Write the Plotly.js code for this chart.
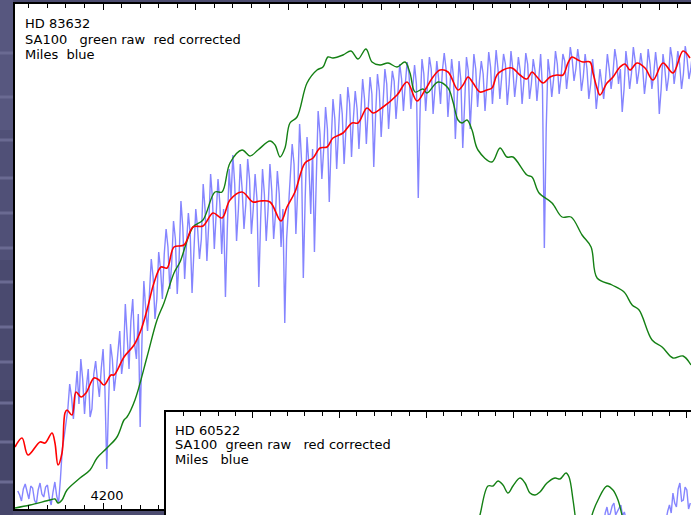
<!DOCTYPE html>
<html>
<head>
<meta charset="utf-8">
<script src="https://cdn.plot.ly/plotly-3.0.1.min.js"></script>
<style>html,body{margin:0;padding:0;background:#4c4c70;}#chart{width:691px;height:515px;}</style>
</head>
<body>
<div id="chart"></div>
<script>
// ---------- Main panel: HD 83632 ----------
// Miles spectrum (blue), sampled on a uniform wavelength grid
const milesStart = 4108;
const milesStep = 2;
const milesFlux = [
 18,14,8,20,25,16,10,23,21,9,
 5,19,26,15,12,22,24,11,4,17,
 27,13,6,30,60,72,88,100,125,112,
 90,118,138,105,150,130,95,122,140,92,
 100,135,148,128,112,140,160,120,40,108,
 165,150,118,135,160,178,135,150,205,170,
 140,188,210,165,150,195,82,170,228,200,
 178,215,250,232,190,210,257,240,210,255,
 280,262,220,245,288,270,215,250,308,282,
 230,265,296,275,216,258,300,280,250,270,
 325,300,248,285,335,310,260,295,330,305,
 255,300,212,280,340,310,354,325,268,300,
 345,320,280,305,350,330,275,300,335,310,
 222,290,340,315,268,300,345,318,270,295,
 338,315,262,300,186,270,300,330,365,345,
 275,320,385,350,231,310,372,345,295,360,
 257,330,398,375,330,360,402,380,307,365,
 410,390,340,378,415,395,345,380,422,405,
 352,390,418,400,360,395,430,410,365,400,
 432,415,342,395,435,418,372,405,440,425,
 380,410,438,428,390,415,445,430,398,425,
 447,435,400,420,444,425,311,400,450,435,
 398,425,452,440,395,420,448,430,405,438,
 456,440,392,420,450,432,370,410,448,428,
 361,405,452,438,380,418,455,440,402,428,
 448,435,398,425,457,442,405,430,459,440,
 410,432,455,445,404,425,458,440,412,430,
 452,438,405,428,456,445,410,425,450,438,
 408,430,455,420,261,380,450,435,412,430,
 458,445,415,432,455,448,420,438,462,450,
 428,440,460,446,418,432,455,440,410,425,
 450,432,400,418,440,425,410,430,455,440,
 420,435,460,448,425,440,397,420,458,442,
 420,436,462,448,425,438,456,442,415,432,
 460,445,420,435,457,440,395,420,455,440,
 418,432,462,450,425,440,458,445,420,435,
 463,450,430,440,458
];

// SA100 raw (green)
const rawWave = [4105,4121.2,4142.8,4148.1,4151.4,4155.7,4161.1,4175.1,4185.9,4193.5,
 4204.2,4215.0,4222.6,4225.8,4234.4,4247.4,4258.2,4265.7,4276.5,4283.0,
 4297.0,4307.8,4320.7,4328.3,4336.9,4349.9,4358.5,4367.1,4380.1,4385.5,
 4390.9,4396.2,4401.6,4409.2,4420.0,4430.8,4437.2,4442.6,4448.0,4458.8,
 4467.4,4475.0,4483.6,4490.1,4498.7,4507.4,4517.1,4525.7,4531.1,4536.5,
 4545.1,4549.4,4561.3,4572.1,4577.5,4582.9,4587.2,4592.6,4598.0,4604.4,
 4619.5,4628.2,4635.7,4642.2,4657.3,4662.7,4670.3,4684.3,4695.1,4704.8,
 4716.7,4726.4,4732.9,4749.1,4762.0,4770.7,4778.2,4792.2,4803.0,4814.8,
 4825.6,4834.2];
const rawFlux = [1,4,9,10,6,9,19,31,39,51,
 61,72,89,92,109,152,189,206,236,247,
 282,289,317,317,346,359,353,359,368,364,
 352,361,386,392,426,439,442,452,451,454,
 458,450,460,447,444,446,442,447,436,417,
 420,416,427,421,407,389,386,389,379,359,
 347,361,352,352,334,332,316,306,292,292,
 274,262,231,224,217,204,199,169,162,151,
 153,144];

// SA100 corrected (red)
const corrWave = [4105.0,4112.6,4119.0,4132.0,4137.4,4144.9,4148.1,4151.4,4155.7,4158.9,
 4161.1,4166.5,4170.8,4176.2,4181.6,4190.2,4195.6,4201.0,4208.6,4211.8,
 4222.6,4233.4,4240.9,4247.4,4254.9,4262.5,4269.0,4276.5,4287.3,4297.0,
 4307.8,4318.6,4328.3,4336.9,4349.9,4361.7,4369.3,4380.1,4391.9,4398.4,
 4407.0,4417.8,4426.5,4434.0,4441.6,4448.0,4458.8,4468.5,4475.0,4484.7,
 4491.2,4502.0,4517.1,4527.9,4538.6,4547.3,4555.9,4563.4,4572.1,4582.9,
 4588.3,4593.7,4599.1,4606.6,4614.1,4619.5,4624.9,4631.4,4641.1,4649.7,
 4657.3,4662.7,4668.1,4674.6,4682.1,4689.7,4696.1,4701.5,4705.8,4712.3,
 4717.7,4725.3,4728.5,4732.8,4736.0,4743.6,4750.1,4757.6,4763.0,4768.4,
 4776.0,4784.6,4793.2,4804.0,4814.8,4825.6,4833.1];
const corrFlux = [62,71,54,67,66,76,66,44,56,96,
 99,94,117,112,116,131,129,124,134,134,
 152,164,179,199,226,242,241,262,264,282,
 283,296,291,309,317,307,308,307,288,302,
 317,346,351,361,362,371,376,386,386,401,
 396,402,414,427,408,419,432,439,437,419,
 424,432,426,417,419,421,434,439,441,434,
 430,437,432,426,432,434,434,446,452,449,
 447,447,436,421,414,426,432,442,445,439,
 446,441,429,446,436,458,451];

// ---------- Inset panel: HD 60522 ----------
const insetRawWave = [4457.1,4461.7,4470.9,4476.7,4482.5,4488.2,4494.0,4499.7,4507.8,4513.6,
 4519.3,4525.1,4530.8,4538.9,4548.1,4553.9,4560.8,4564.3,4568.9,4571.2,
 4574.6,4582.7,4590.8,4597.7,4608.0,4614.9,4620.7,4625.3,4629.9];
const insetRawFlux = [-15,0,29,29,34,30,22,29,37,32,
 22,20,23,32,37,36,42,38,15,0,
 -25,-40,0,15,29,25,15,0,-15];
const insetMilesWave = [4600,4602,4604,4606,4608,4610,4612,4614,4616,4618,4620,4622,4624,4626,4628,4630,4632,4636,
 4672,4674,4676,4678,4680,4682,4684,4686,4688,4690,4692,4694,4696,4698,4700,4702,4704];
const insetMilesFlux = [-20,-12,-10,2,8,-2,2,9,12,0,4,7,10,-1,3,-6,-15,-25,
 -25,-12,-5,4,10,2,22,12,8,26,32,14,15,28,25,6,12];

const milesWave = milesFlux.map((_, i) => milesStart + i * milesStep);

const FONT = 'DejaVu Sans, Verdana, sans-serif';
const BLUE = 'rgba(120,120,255,0.9)';
const GREEN = 'rgb(20,128,20)';
const RED = 'rgb(255,0,0)';

const traces = [
  {x: milesWave, y: milesFlux, type: 'scatter', mode: 'lines', line: {color: BLUE, width: 1.4}, xaxis: 'x', yaxis: 'y'},
  {x: rawWave, y: rawFlux, type: 'scatter', mode: 'lines', line: {color: GREEN, width: 1.4, shape: 'spline', smoothing: 1}, xaxis: 'x', yaxis: 'y'},
  {x: corrWave, y: corrFlux, type: 'scatter', mode: 'lines', line: {color: RED, width: 1.6, shape: 'spline', smoothing: 1}, xaxis: 'x', yaxis: 'y'},
  {x: insetMilesWave, y: insetMilesFlux, type: 'scatter', mode: 'lines', line: {color: BLUE, width: 1.4}, xaxis: 'x2', yaxis: 'y2'},
  {x: insetRawWave, y: insetRawFlux, type: 'scatter', mode: 'lines', line: {color: GREEN, width: 1.4, shape: 'spline', smoothing: 1}, xaxis: 'x2', yaxis: 'y2'}
];

// background stripes (left strip)
const shapes = [];
const bands = [[0,130,'#57577f'],[130,260,'#505077'],[260,390,'#4a4a6f'],[390,515,'#46466a']];
bands.forEach(b => shapes.push({type:'rect', xref:'paper', yref:'paper', x0:0, x1:13/691, y0:(515-b[1])/515, y1:(515-b[0])/515, fillcolor:b[2], line:{width:0}, layer:'below'}));
[53,97,140,178,213,248,282,327,362,403,442,482].forEach(p => shapes.push({type:'rect', xref:'paper', yref:'paper', x0:0, x1:13/691, y0:(515-p-1.5)/515, y1:(515-p+1.5)/515, fillcolor:'#6a6a92', line:{width:0}, layer:'below'}));

function label(text, px, py) {
  return {text: text, xref: 'paper', yref: 'paper', x: px / 691, y: (515 - py) / 515,
    xanchor: 'left', yanchor: 'middle', showarrow: false, font: {family: FONT, size: 13, color: '#000'}};
}
const S = '\u00a0';
const annotations = [
  label('HD 83632', 23, 23.5),
  label('SA100' + S + S + S + 'green raw' + S + S + 'red corrected', 23, 39.5),
  label('Miles' + S + S + 'blue', 23, 54.5),
  label('HD 60522', 173, 430),
  label('SA100' + S + S + 'green raw' + S + S + S + 'red corrected', 173, 444),
  label('Miles' + S + S + S + 'blue', 173, 459)
];

const layout = {
  width: 691, height: 515, autosize: false,
  margin: {l: 0, r: 0, t: 0, b: 0, pad: 0},
  paper_bgcolor: '#4c4c70', plot_bgcolor: '#ffffff',
  showlegend: false,
  font: {family: FONT, size: 13, color: '#000'},
  xaxis: {domain: [15/691, 1], range: [4105, 4834.2], showgrid: false, zeroline: false,
    showline: true, linecolor: '#000', linewidth: 2, mirror: 'allticks',
    ticks: 'inside', ticklen: 6, tickwidth: 1, tickcolor: '#000', tick0: 4100, dtick: 100,
    minor: {dtick: 20, ticks: 'inside', ticklen: 4, tickwidth: 1, tickcolor: '#000', showgrid: false},
    showticklabels: true, ticklabelposition: 'inside', ticklabelshift: 4,
    tickfont: {family: FONT, size: 13, color: '#000'}},
  yaxis: {domain: [6/515, 511/515], range: [0, 505], showgrid: false, zeroline: false,
    showline: true, linecolor: '#000', linewidth: 2, mirror: false, ticks: '', showticklabels: false},
  xaxis2: {domain: [166/691, 1], range: [4100, 4704.8], anchor: 'y2', side: 'top', showgrid: false, zeroline: false,
    showline: true, linecolor: '#000', linewidth: 2, mirror: false,
    ticks: 'inside', ticklen: 6, tickwidth: 1, tickcolor: '#000', tick0: 4100, dtick: 100,
    minor: {dtick: 20, ticks: 'inside', ticklen: 4, tickwidth: 1, tickcolor: '#000', showgrid: false},
    showticklabels: false},
  yaxis2: {domain: [0, 103/515], range: [0, 103], anchor: 'x2', showgrid: false, zeroline: false,
    showline: true, linecolor: '#000', linewidth: 2, mirror: false, ticks: '', showticklabels: false},
  shapes: shapes,
  annotations: annotations
};

Plotly.newPlot('chart', traces, layout, {staticPlot: true, displayModeBar: false});
</script>
</body>
</html>
